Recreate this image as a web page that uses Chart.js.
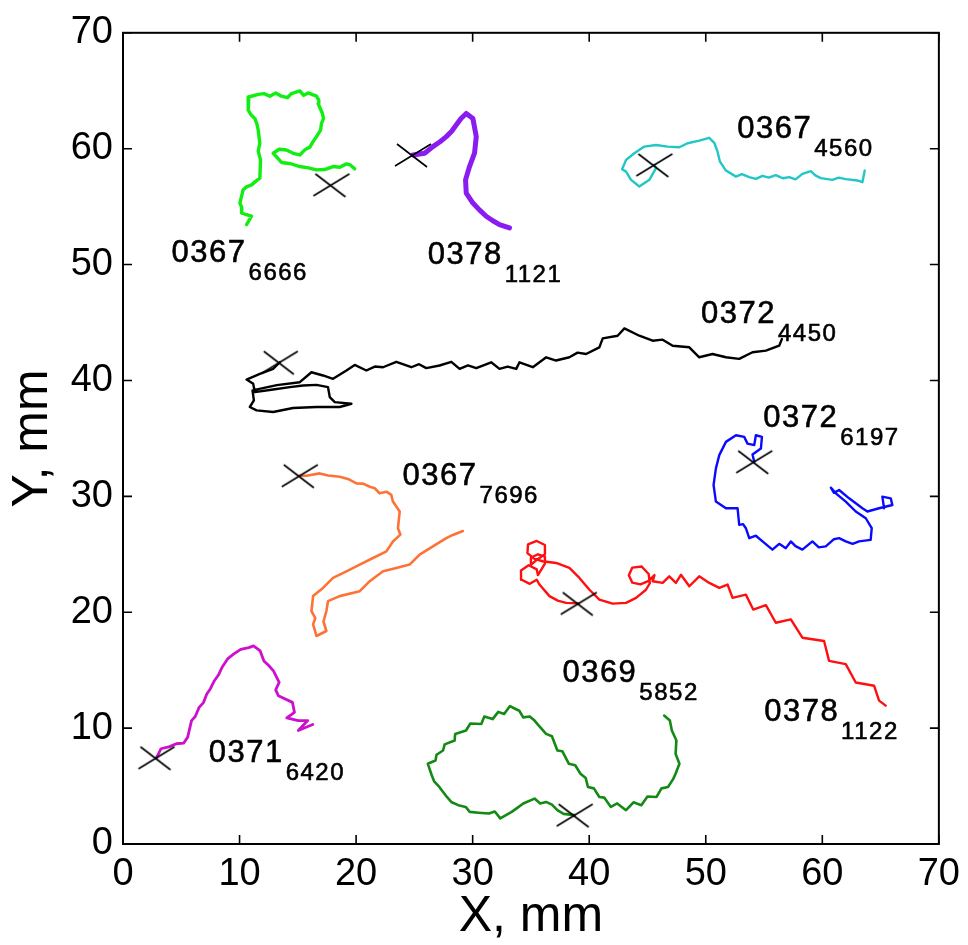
<!DOCTYPE html>
<html><head><meta charset="utf-8">
<script src="https://cdn.jsdelivr.net/npm/chart.js@4/dist/chart.umd.min.js"></script>
<style>html,body{margin:0;padding:0;background:#fff;}#wrap{width:968px;height:945px;position:relative;}</style>
</head><body><div id="wrap"><canvas id="c"></canvas></div>
<script>
// ---- tick labels ----
const xTicks = [0,10,20,30,40,50,60,70];
const yTicks = [0,10,20,30,40,50,60,70];

// ---- trajectory names ----
const trackMain = ['0367','0378','0367','0372','0372','0367','0378','0371','0369'];
const trackSub  = ['6666','1121','4560','4450','6197','7696','1122','6420','5852'];

// ---- trajectories (mm) ----
const t6666X = [19.88,19.50,19.17,18.60,18.02,17.30,16.60,15.90,15.17,14.40,13.60,12.88,13.40,14.03,14.60,15.17,15.60,16.02,16.30,16.60,16.95,17.03,17.20,17.11,16.74,16.80,16.60,15.88,15.50,15.17,14.45,14.10,13.60,13.10,12.60,12.10,11.60,10.80,10.74,11.00,11.31,11.50,11.60,11.74,11.60,11.80,11.74,11.40,11.03,10.60,10.31,10.03,10.20,10.17,10.60,11.03,10.60];
const t6666Y = [58.26,58.60,58.69,58.40,58.46,58.20,58.17,58.35,58.46,58.70,58.81,59.61,59.95,59.89,59.60,59.46,59.90,60.12,60.60,61.04,61.60,62.18,62.60,63.04,63.90,64.20,64.53,64.81,64.60,64.98,64.76,64.40,64.53,64.80,64.53,64.75,64.69,64.46,63.32,62.90,62.61,62.10,61.61,60.47,59.80,59.03,57.46,57.20,56.88,56.70,56.46,55.31,54.90,54.45,54.30,54.17,53.45];

const t1121X = [24.88,25.88,26.59,27.20,27.74,28.20,28.59,29.00,29.45,30.02,30.31,30.16,29.73,29.39,29.45,30.02,30.60,31.16,31.70,32.30,33.16];
const t1121Y = [59.46,59.61,60.18,60.60,61.04,61.50,62.04,62.60,63.04,62.61,61.04,59.61,58.46,57.31,56.17,55.31,54.70,54.17,53.80,53.45,53.16];

const t4560X = [45.59,45.73,45.16,44.30,43.59,43.16,42.82,43.16,43.87,44.73,45.73,46.73,47.73,48.44,49.44,50.30,50.73,51.01,51.22,51.73,52.59,53.10,53.73,54.30,54.87,55.40,56.01,56.60,57.16,57.70,58.29,59.01,59.40,59.87,60.87,61.40,62.01,63.01,63.44,63.64];
const t4560Y = [58.60,58.32,57.31,56.74,57.31,58.02,58.23,59.03,59.61,60.18,60.32,60.18,60.12,60.47,60.69,60.94,60.51,59.74,58.88,58.11,57.59,57.80,57.55,57.40,57.66,57.50,57.72,57.45,57.55,57.35,57.83,58.06,57.70,57.46,57.31,57.50,57.37,57.26,57.11,58.11];

const t4450X = [13.45,12.88,11.74,10.60,11.17,11.31,12.88,14.31,15.45,16.60,17.59,17.74,18.17,19.60,18.59,16.60,14.59,12.88,11.46,10.88,11.23,11.11,13.20,15.17,16.17,17.16,18.02,19.17,19.88,20.88,21.60,22.31,23.45,24.74,25.40,26.02,27.16,28.17,28.88,29.60,30.31,31.59,32.30,33.00,33.74,34.02,35.16,36.31,37.16,38.30,39.00,39.73,40.87,41.16,42.44,43.02,44.30,45.44,46.30,47.16,48.59,49.44,50.58,51.73,52.87,54.01,55.16,56.30,56.53];
const t4450Y = [41.57,41.00,40.57,40.08,39.71,38.99,39.22,39.42,39.57,39.62,39.42,38.56,38.13,37.99,37.71,37.71,37.62,37.28,37.42,37.71,38.28,39.14,39.60,39.85,40.71,40.43,40.14,40.86,41.34,40.86,41.20,41.14,41.61,41.14,41.40,41.06,41.29,41.61,41.00,41.30,41.06,41.57,41.00,41.20,41.00,41.57,41.14,42.00,41.72,42.00,42.40,42.28,42.86,43.63,43.86,44.49,43.86,43.43,43.52,42.99,42.86,42.00,42.28,42.00,41.86,42.43,42.57,43.00,43.57];

const t6197X = [54.16,54.01,54.73,54.82,54.30,54.16,53.58,53.30,52.59,51.73,51.16,50.87,50.67,50.87,51.73,52.73,52.87,53.20,53.44,53.73,54.30,54.87,55.72,56.30,56.87,57.30,57.70,58.29,59.15,59.70,60.30,61.00,61.44,62.01,62.60,63.15,64.15,64.24,63.73,62.87,62.01,61.16,60.73,61.00,61.44,62.30,63.44,63.87,64.87,66.01,65.87,65.15,65.30];
const t6197Y = [32.98,33.61,34.12,35.13,35.27,34.42,34.55,35.13,35.27,34.70,33.56,32.41,30.98,29.55,28.97,28.97,27.54,27.60,27.25,26.39,26.60,26.11,25.40,25.90,25.53,26.11,25.70,25.40,26.11,25.60,25.68,26.30,26.39,26.11,25.90,26.11,26.24,27.25,28.11,28.69,29.55,30.26,30.75,30.30,30.55,29.83,28.97,28.69,28.97,29.25,29.83,29.97,28.97];

const t7696X = [15.17,15.74,16.88,17.60,18.59,19.30,20.03,20.60,21.17,21.60,22.02,22.60,23.02,23.16,23.74,23.59,23.80,23.16,22.60,21.45,20.31,19.17,18.02,17.16,16.31,16.17,16.50,16.31,16.60,17.45,17.20,17.45,17.59,18.59,20.31,21.17,22.31,23.45,24.59,25.45,26.59,27.74,28.30,29.16];
const t7696Y = [31.78,31.78,31.98,31.80,31.69,31.50,31.12,31.10,30.83,30.70,30.26,30.40,30.12,29.55,28.69,27.25,26.70,26.11,25.25,24.68,24.11,23.53,22.96,22.10,21.39,20.10,19.50,18.95,17.95,18.38,19.20,20.10,20.96,21.39,21.82,22.68,23.53,23.82,24.11,24.97,25.68,26.39,26.67,27.01];

const t1122X = [39.10,38.02,37.30,36.59,35.73,35.50,34.90,34.20,34.15,34.80,35.50,35.60,36.20,36.20,35.60,35.00,35.00,35.60,36.20,36.20,35.50,34.75,34.70,35.30,36.00,37.16,38.30,39.16,40.02,40.87,42.01,43.16,44.02,44.87,45.20,45.10,44.50,43.70,43.40,43.70,44.40,45.10,45.60,45.44,46.30,46.87,47.44,47.87,48.59,49.44,50.30,51.16,51.87,52.30,53.44,54.07,55.16,56.01,57.30,58.29,60.15,60.58,62.01,62.87,64.44,64.87,65.44];
const t1122Y = [20.76,20.81,21.00,21.39,22.39,22.80,22.45,22.80,23.60,24.05,23.70,23.20,24.20,24.80,25.00,24.70,24.10,24.60,25.00,25.80,26.15,25.85,25.10,24.60,24.40,24.25,23.82,22.96,21.94,21.09,20.74,20.81,21.24,21.94,22.50,23.30,23.95,23.85,23.20,22.55,22.40,22.70,23.20,22.67,22.53,23.10,22.53,23.23,22.24,23.10,22.53,22.10,22.39,21.24,21.52,20.23,20.61,19.09,19.38,17.80,17.52,15.80,15.52,13.94,13.66,12.37,11.94];

const t6420X = [2.87,3.26,4.00,4.57,5.20,5.55,5.88,6.20,6.53,6.90,7.19,7.50,7.84,8.20,8.49,9.00,9.48,10.10,10.79,11.20,11.77,12.09,12.50,12.91,13.40,13.10,13.33,14.54,14.71,14.05,15.04,15.85,15.04,16.28];
const t6420Y = [7.44,8.22,8.40,8.65,8.70,9.22,10.65,11.00,11.79,12.20,12.94,13.40,14.09,14.60,15.23,16.00,16.38,16.80,16.95,17.10,16.66,15.80,15.40,14.94,13.94,13.30,12.80,12.22,11.36,10.88,10.65,10.65,9.79,10.31];

const t5852X = [38.75,37.80,37.27,36.80,36.30,35.80,35.31,34.34,33.80,33.35,32.37,31.90,31.39,30.50,29.75,29.40,28.77,28.20,27.79,27.14,26.70,26.49,26.15,26.81,26.90,27.46,27.60,28.45,28.50,29.43,29.80,30.74,31.00,31.71,32.20,32.70,33.20,33.68,34.00,34.34,34.90,35.31,35.60,36.30,36.80,37.27,37.70,38.26,38.80,39.25,39.70,39.89,40.40,40.87,41.30,41.86,42.40,43.16,43.80,44.47,45.00,45.78,46.20,46.76,47.20,47.41,47.74,47.41,47.48,47.09,46.92,46.43];
const t5852Y = [2.49,2.60,2.92,3.40,3.63,3.50,3.92,3.49,3.10,2.77,2.21,2.80,2.63,2.70,2.77,3.20,3.35,3.60,4.06,4.92,5.40,5.93,6.93,7.21,7.70,8.07,8.60,8.93,9.50,9.79,10.40,10.36,11.00,10.78,11.40,11.22,11.90,11.65,11.50,10.93,11.00,10.65,10.30,9.50,9.30,8.07,8.00,6.92,6.80,6.06,5.70,4.92,4.80,4.06,4.00,3.20,3.50,2.92,3.60,3.35,4.10,4.06,4.80,4.92,5.60,6.06,6.92,7.78,8.93,9.79,10.65,11.08];

// ---- start points (X marks) ----
const startX = [17.88,24.88,45.59,13.45,54.16,15.17,39.10,2.87,38.75];
const startY = [56.88,59.46,58.60,41.57,32.98,31.78,20.76,7.44,2.49];

// ---- label anchors (mm) ----
const labelX = [4.17,26.14,52.70,49.59,54.93,23.99,55.01,7.35,37.70];
const labelY = [50.22,50.01,60.90,44.92,35.99,30.98,10.65,7.07,13.94];

// ---- styles ----
const trackColor = ['#12ee12','#8a1cf2','#22c6c6','#000000','#0a0aff','#ff7236','#ff0f0f','#cc10cc','#138a13'];
const trackWidth = [3.4,5,2.4,2.4,2.4,2.6,2.4,2.8,2.6];

const xsList = [t6666X,t1121X,t4560X,t4450X,t6197X,t7696X,t1122X,t6420X,t5852X];
const ysList = [t6666Y,t1121Y,t4560Y,t4450Y,t6197Y,t7696Y,t1122Y,t6420Y,t5852Y];

function pts(xs, ys){ return xs.map((v,i)=>({x:v,y:ys[i]})); }

// X-mark glyph
const mark = document.createElement('canvas');
mark.width = 40; mark.height = 28;
(function(){
  const g = mark.getContext('2d');
  g.strokeStyle = '#000'; g.lineWidth = 1.6;
  g.beginPath(); g.moveTo(2,25); g.lineTo(38,3); g.stroke();
  g.beginPath(); g.moveTo(4,3); g.lineTo(34,26); g.stroke();
})();

const datasets = [{
  label:'start', data: pts(startX,startY), showLine:false,
  pointStyle: mark, pointRadius: 14, pointHoverRadius:14, order: 0
}];
xsList.forEach((xs,i)=>{
  datasets.push({
    label: trackMain[i]+'_'+trackSub[i], data: pts(xs, ysList[i]), showLine:true,
    borderColor: trackColor[i], borderWidth: trackWidth[i], pointRadius:0,
    tension:0, borderJoinStyle:'round', borderCapStyle:'round', order: 1
  });
});

const FONT = "'Liberation Sans', Arial, Helvetica, sans-serif";

const frame = {
  id:'frame',
  afterDraw(chart){
    const {ctx, chartArea:a, scales:{x,y}} = chart;
    ctx.save();
    ctx.strokeStyle='#000'; ctx.lineWidth=2;
    ctx.strokeRect(a.left, a.top, a.right-a.left, a.bottom-a.top);
    const L = 9;
    ctx.lineWidth = 1.6;
    ctx.beginPath();
    x.ticks.forEach(t=>{ const p = x.getPixelForValue(t.value);
      ctx.moveTo(p,a.bottom); ctx.lineTo(p,a.bottom-L);
      ctx.moveTo(p,a.top); ctx.lineTo(p,a.top+L); });
    y.ticks.forEach(t=>{ const p = y.getPixelForValue(t.value);
      ctx.moveTo(a.left,p); ctx.lineTo(a.left+L,p);
      ctx.moveTo(a.right,p); ctx.lineTo(a.right-L,p); });
    ctx.stroke();
    // labels
    ctx.fillStyle = '#000';
    ctx.strokeStyle = '#000';
    ctx.lineWidth = 0.6;
    ctx.textBaseline = 'alphabetic';
    ctx.textAlign = 'left';
    trackMain.forEach((m,i)=>{
      const px = x.getPixelForValue(labelX[i]);
      const py = y.getPixelForValue(labelY[i]);
      ctx.font = '31px ' + FONT;
      ctx.letterSpacing = '1.5px';
      ctx.fillText(m, px, py);
      ctx.strokeText(m, px, py);
      const w = ctx.measureText(m).width;
      ctx.font = '24px ' + FONT;
      ctx.fillText(trackSub[i], px + w + 2, py + 18);
      ctx.strokeText(trackSub[i], px + w + 2, py + 18);
    });
    ctx.restore();
  }
};

new Chart(document.getElementById('c'), {
  type:'scatter',
  data:{ datasets },
  options:{
    responsive:true, maintainAspectRatio:false, animation:false,
    layout:{ padding:{ top:29, right:28, left:0, bottom:0 } },
    plugins:{ legend:{display:false}, tooltip:{enabled:false} },
    scales:{
      x:{ type:'linear', min:0, max:70,
        afterBuildTicks: s=>{ s.ticks = xTicks.map(v=>({value:v})); },
        afterFit: s=>{ s.height = 101; },
        ticks:{ font:{size:38, family:FONT}, color:'#000', padding:8, maxRotation:0, autoSkip:false },
        grid:{ drawOnChartArea:false, drawTicks:false },
        border:{ color:'#000', width:2 },
        title:{ display:true, text:'X, mm', font:{size:50, family:FONT, lineHeight:1.1}, color:'#000', padding:{top:0,bottom:0} }
      },
      y:{ type:'linear', min:0, max:70,
        afterBuildTicks: s=>{ s.ticks = yTicks.map(v=>({value:v})); },
        afterFit: s=>{ s.width = 123; },
        ticks:{ font:{size:38, family:FONT}, color:'#000', padding:10, autoSkip:false },
        grid:{ drawOnChartArea:false, drawTicks:false },
        border:{ color:'#000', width:2 },
        title:{ display:true, text:'Y, mm', font:{size:50, family:FONT, lineHeight:1.1}, color:'#000', padding:{top:6,bottom:0} }
      }
    }
  },
  plugins:[frame]
});
</script></body></html>
